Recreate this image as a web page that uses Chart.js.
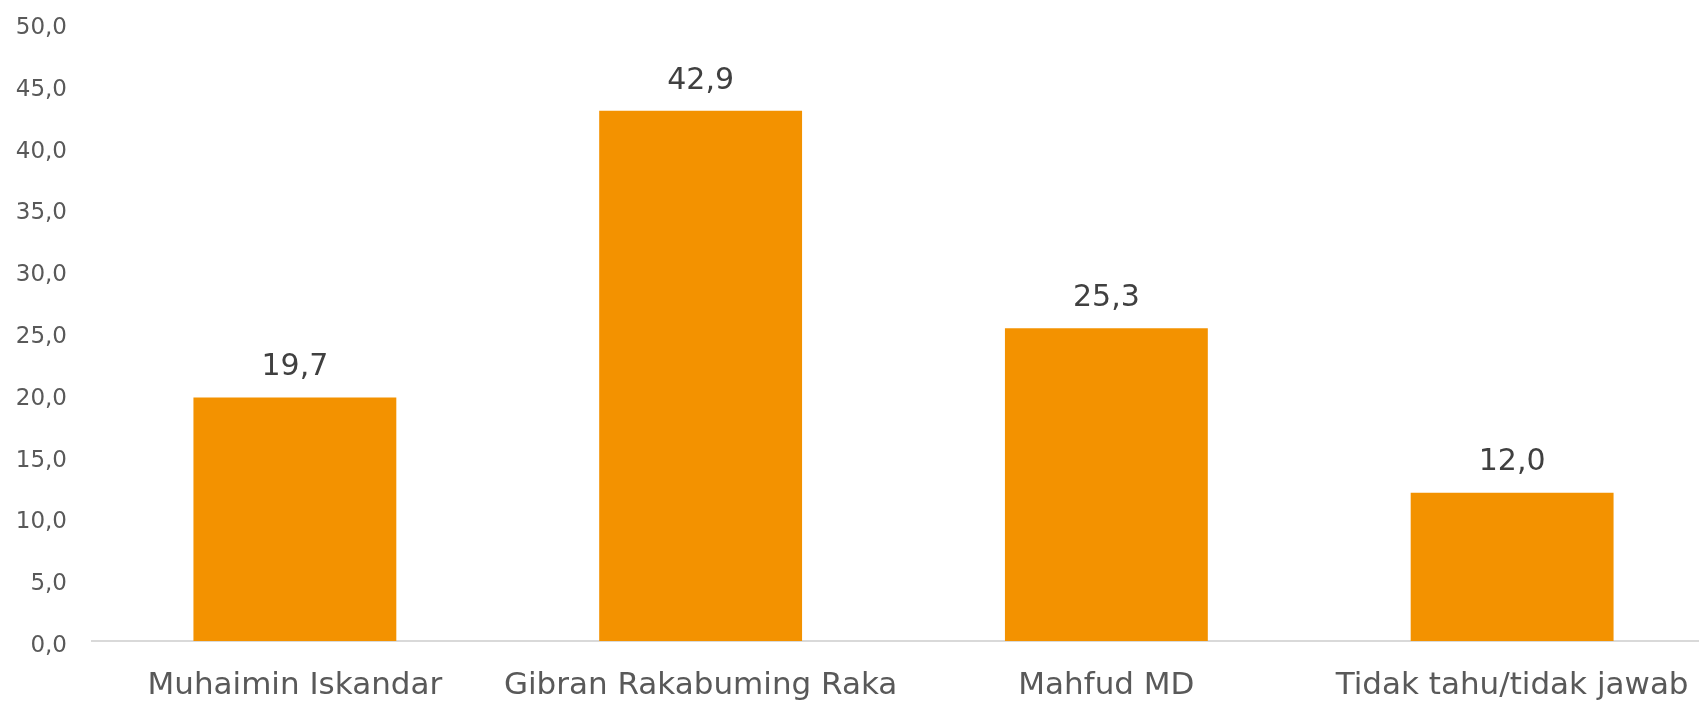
<!DOCTYPE html>
<html>
<head>
<meta charset="utf-8">
<script src="https://cdn.jsdelivr.net/npm/chart.js@4/dist/chart.umd.min.js"></script>
<style>
  html, body { margin: 0; padding: 0; background: #fff; overflow: hidden; }
  #wrap { width: 1715px; height: 701px; }
</style>
</head>
<body>
<div id="wrap"><canvas id="grafico"></canvas></div>
<script>
// datos
const kategori = ["Muhaimin Iskandar", "Gibran Rakabuming Raka", "Mahfud MD", "Tidak tahu/tidak jawab"];
const nilai = [19.7, 42.9, 25.3, 12.0];
const yMin = 0;
const yMax = 50;
const yStep = 5;

const warnaBar = "#F39200";
const warnaTeks = "#595959";
const fuente = "'DejaVu Sans', sans-serif";

const formatKoma = (v) => Number(v).toFixed(1).replace(".", ",");

// etiquetas encima de las barras
const labelBarras = {
  id: "labelBarras",
  afterDatasetsDraw(chart) {
    const ctx = chart.ctx;
    const meta = chart.getDatasetMeta(0);
    ctx.save();
    ctx.font = "30px " + fuente;
    ctx.fillStyle = "#404040";
    ctx.textAlign = "center";
    ctx.textBaseline = "bottom";
    meta.data.forEach((bar, i) => {
      ctx.fillText(formatKoma(nilai[i]), bar.x, bar.y - 15);
    });
    ctx.restore();
  }
};

const ctx = document.getElementById("grafico").getContext("2d");
new Chart(ctx, {
  type: "bar",
  data: {
    labels: kategori,
    datasets: [{
      data: nilai,
      backgroundColor: warnaBar,
      categoryPercentage: 1.0,
      barPercentage: 0.5
    }]
  },
  options: {
    responsive: true,
    maintainAspectRatio: false,
    animation: false,
    layout: { padding: { top: 23, right: 0, left: 0, bottom: 0 } },
    plugins: {
      legend: { display: false },
      tooltip: { enabled: false }
    },
    scales: {
      x: {
        grid: { display: false, drawTicks: false },
        border: { display: true, color: "#D9D9D9", width: 2 },
        ticks: {
          color: warnaTeks,
          font: { family: fuente, size: 31 },
          padding: 26,
          maxRotation: 0,
          autoSkip: false
        },
        afterFit(scale) {
          scale.height = 60;
          scale.paddingLeft = 0;
          scale.paddingRight = 0;
        }
      },
      y: {
        min: yMin,
        max: yMax,
        grid: { display: false, drawTicks: false },
        border: { display: false },
        ticks: {
          stepSize: yStep,
          color: warnaTeks,
          font: { family: fuente, size: 23 },
          padding: 25,
          labelOffset: 5,
          callback: (v) => formatKoma(v)
        },
        afterFit(scale) {
          scale.width = 92;
          scale.paddingTop = 0;
          scale.paddingBottom = 0;
        }
      }
    }
  },
  plugins: [labelBarras]
});
</script>
</body>
</html>
